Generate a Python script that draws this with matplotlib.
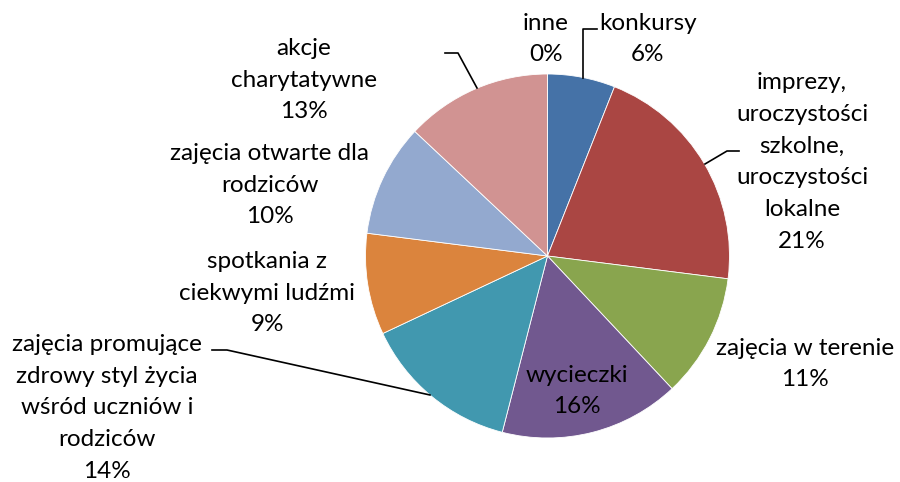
import matplotlib
matplotlib.use("Agg")
import matplotlib.pyplot as plt

# dane (udział procentowy)
categories = ["inne", "konkursy", "imprezy,\nuroczystości\nszkolne,\nuroczystości\nlokalne",
              "zajęcia w terenie", "wycieczki",
              "zajęcia promujące\nzdrowy styl życia\nwśród uczniów i\nrodziców",
              "spotkania z\nciekwymi ludźmi", "zajęcia otwarte dla\nrodziców",
              "akcje\ncharytatywne"]
values = [0, 6, 21, 11, 16, 14, 9, 10, 13]
colors = ["#4F81BD", "#4572A7", "#AA4643", "#89A54E", "#71588F",
          "#4198AF", "#DB843D", "#93A9CF", "#D19392"]

# pozycje etykiet w pikselach (środek bloku tekstu)
label_pos = [(546, 39), (648, 39), (802, 162), (805, 364), (577, 391),
             (107, 408), (267, 293), (270, 185), (304, 80)]

W, H = 900, 482
CX, CY, R = 547.5, 256, 182


def px(x, y):
    return (x - CX) / R, (CY - y) / R


fig = plt.figure(figsize=(W / 100, H / 100), dpi=100)
ax = fig.add_axes([0, 0, 1, 1])
ax.pie(values, colors=colors, startangle=90, counterclock=False, radius=1,
       wedgeprops=dict(edgecolor="white", linewidth=0.6))
ax.set_xlim(-CX / R, (W - CX) / R)
ax.set_ylim(-(H - CY) / R, CY / R)
ax.set_aspect("equal")
ax.axis("off")

for cat, v, (x, y) in zip(categories, values, label_pos):
    tx, ty = px(x, y)
    ax.text(tx, ty, f"{cat}\n{v}%", ha="center", va="center", fontsize=17.5,
            family="Lato", linespacing=1.64, color="black")

# linie odniesienia
leaders = [
    [(583, 78), (583, 29), (597, 29)],
    [(705, 164), (727, 151), (739, 151)],
    [(477, 88), (458, 53), (445, 53)],
    [(430, 395), (227, 350), (212, 350)],
]
for pts in leaders:
    xs, ys = zip(*[px(a, b) for a, b in pts])
    ax.plot(xs, ys, color="black", linewidth=1.2)

fig.savefig("out.png", dpi=100)
